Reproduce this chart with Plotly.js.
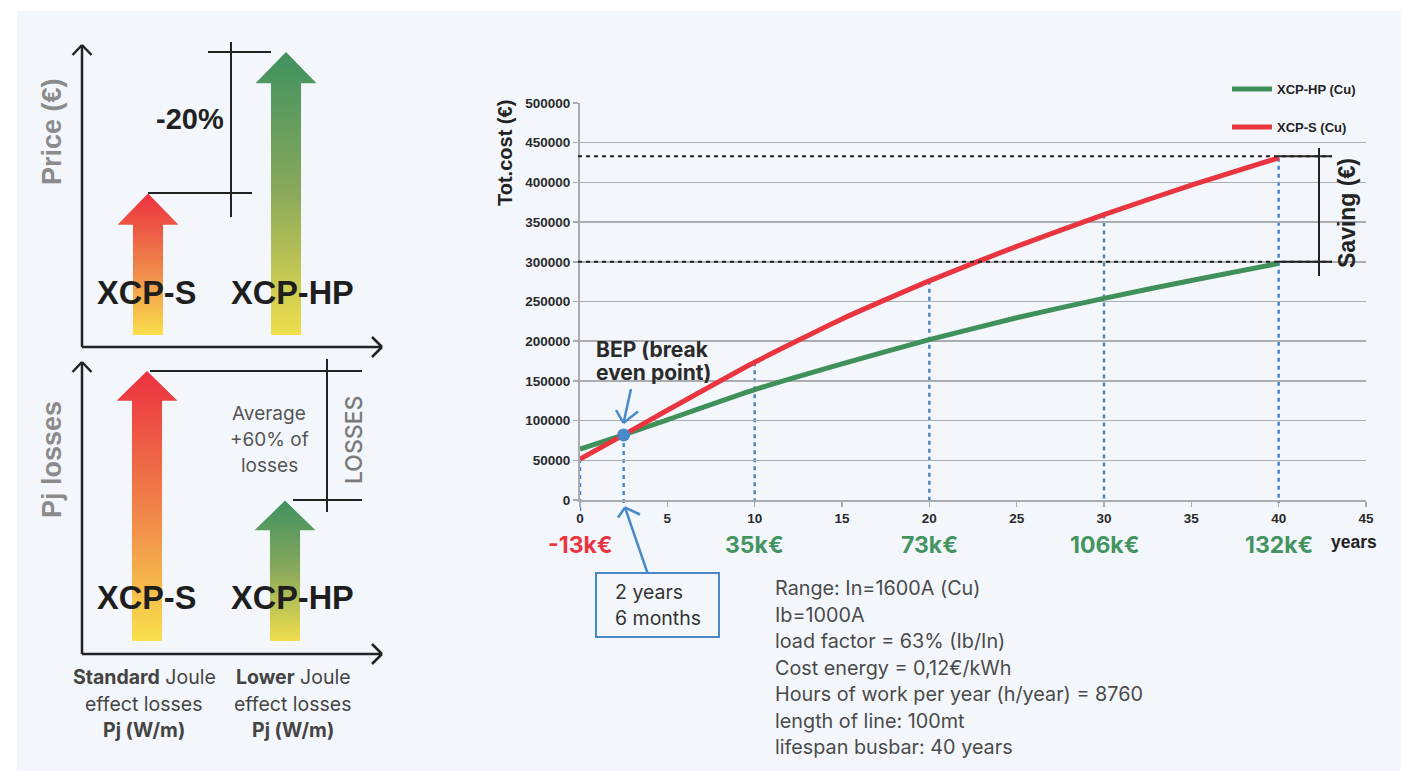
<!DOCTYPE html>
<html>
<head>
<meta charset="utf-8">
<script src="https://cdn.plot.ly/plotly-3.0.1.min.js"></script>
<style>html,body{margin:0;padding:0;background:#fff;}#chart{width:1401px;height:771px;}</style>
</head>
<body>
<div id="chart"></div>
<script>
// ---------- DATA ----------
const years   = [0, 2.5, 5, 10, 15, 20, 25, 30, 35, 40];
const costHP  = [64000, 82000, 101000, 139000, 171500, 202000, 229500, 254000, 276500, 298000];
const costS   = [51500, 82000, 113000, 173500, 228000, 276000, 319500, 359500, 396500, 431000];
const seriesNames = ['XCP-HP (Cu)', 'XCP-S (Cu)'];
const bepX = [2.5];
const bepY = [82000];
const markYears = [0, 2.5, 10, 20, 30, 40];
const savingYears  = [0, 10, 20, 30, 40];
const savingLabels = ['-13k€', '35k€', '73k€', '106k€', '132k€'];
const savingLevels = [300000, 433000];
const productLabels = ['XCP-S', 'XCP-HP'];
const priceLevels = [50, 100];
const lossLevels  = [100, 52];
const paramLines = [
  'Range: In=1600A (Cu)',
  'Ib=1000A',
  'load factor = 63% (Ib/In)',
  'Cost energy = 0,12€/kWh',
  'Hours of work per year (h/year) = 8760',
  'length of line: 100mt',
  'lifespan busbar: 40 years'
];
const bepBoxLines = ['2 years', '6 months'];
const bepTitleLines = ['BEP (break', 'even point)'];
const stdLines = ['<b>Standard</b> Joule', 'effect losses', '<b>Pj (W/m)</b>'];
const lowLines = ['<b>Lower</b> Joule', 'effect losses', '<b>Pj (W/m)</b>'];
const avgLines = ['Average', '+60% of', 'losses'];

// ---------- HELPERS ----------
const W = 1401, H = 771;
const px = x => x / W;
const py = y => 1 - y / H;
const RED = '#e8353f', GREEN = '#3f9159', BLUE = '#4a89c8', DARK = '#222222', BG = '#f3f7fc';
const yMain0 = py(500), yMain1 = py(103);
const yd = v => yMain0 + v / 500000 * (yMain1 - yMain0);
const HELV = 'Liberation Sans, Arial, sans-serif';
const INTER = 'Inter, Noto Sans, sans-serif';

function seg(x0, y0, x1, y1, color, width, dash) {
  return {type: 'line', xref: 'paper', yref: 'paper', x0: px(x0), y0: py(y0), x1: px(x1), y1: py(y1),
          line: {color: color, width: width, dash: dash || 'solid'}, layer: 'above'};
}
function txt(x, y, text, size, color, opts) {
  return Object.assign({xref: 'paper', yref: 'paper', x: px(x), y: py(y), text: text, showarrow: false,
    xanchor: 'center', yanchor: 'middle',
    font: {family: INTER, size: size, color: color}}, opts || {});
}

// ---------- TRACES ----------
const traces = [];
traces.push({x: years, y: costHP, type: 'scatter', mode: 'lines', name: seriesNames[0],
  line: {color: GREEN, width: 5, shape: 'spline', smoothing: 0.5}, hoverinfo: 'x+y', legend: 'legend'});
traces.push({x: years, y: costS, type: 'scatter', mode: 'lines', name: seriesNames[1],
  line: {color: RED, width: 5, shape: 'spline', smoothing: 0.5}, hoverinfo: 'x+y', legend: 'legend2'});
traces.push({x: bepX, y: bepY, type: 'scatter', mode: 'markers', showlegend: false,
  marker: {color: BLUE, size: 13}, hoverinfo: 'x+y'});

// gradient arrows for left panels
const shaftHalf = 0.109, headHalf = 0.221, headLen = 11;
function arrowTrace(i, level, xa, ya, scale) {
  const xs = [i - shaftHalf, i - shaftHalf, i - headHalf, i, i + headHalf, i + shaftHalf, i + shaftHalf, i - shaftHalf];
  const hb = level - headLen;
  const ys = [0, hb, hb, level, hb, hb, 0, 0];
  return {x: xs, y: ys, xaxis: xa, yaxis: ya, type: 'scatter', mode: 'lines', fill: 'toself',
    line: {width: 0, color: 'rgba(0,0,0,0)'}, fillgradient: {type: 'vertical', colorscale: scale},
    showlegend: false, hoverinfo: 'skip'};
}
const scaleS  = [[0, '#f9e04c'], [0.45, '#f08a4a'], [1, '#ec3140']];
const scaleHP = [[0, '#efde4c'], [0.5, '#8aa95b'], [1, '#3f9160']];
priceLevels.forEach((v, i) => traces.push(arrowTrace(i, v, 'x2', 'y2', i === 0 ? scaleS : scaleHP)));
lossLevels.forEach((v, i) => traces.push(arrowTrace(i, v, 'x3', 'y3', i === 0 ? scaleS : scaleHP)));

// ---------- SHAPES ----------
const shapes = [];
shapes.push({type: 'rect', xref: 'paper', yref: 'paper', x0: px(17), x1: 1, y0: 0, y1: py(11),
  fillcolor: BG, line: {width: 0}, layer: 'below'});
// cover top gridline behind legend
shapes.push({type: 'rect', xref: 'paper', yref: 'paper', x0: px(1231), x1: px(1372), y0: py(106), y1: py(100),
  fillcolor: BG, line: {width: 0}, layer: 'above'});

// left panel axes with open arrowheads
function axisArrow(ox, oy, tx, ty, dir) {
  shapes.push(seg(ox, oy, tx, ty, DARK, 2.5));
  if (dir === 'up') { shapes.push(seg(tx, ty, tx - 9.5, ty + 10, DARK, 2.5)); shapes.push(seg(tx, ty, tx + 9.5, ty + 10, DARK, 2.5)); }
  else { shapes.push(seg(tx, ty, tx - 10, ty - 10, DARK, 2.5)); shapes.push(seg(tx, ty, tx - 10, ty + 10, DARK, 2.5)); }
}
axisArrow(82, 347, 82, 45, 'up');
axisArrow(82, 347, 382, 347, 'right');
axisArrow(82, 654, 82, 362, 'up');
axisArrow(82, 654, 382, 654, 'right');
// dimension lines (top)
shapes.push(seg(148, 193, 252, 193, DARK, 2));
shapes.push(seg(208, 52, 271, 52, DARK, 2));
shapes.push(seg(231, 42, 231, 217, DARK, 2));
// dimension lines (bottom)
shapes.push(seg(150, 371, 362, 371, DARK, 2));
shapes.push(seg(293, 500, 362, 500, DARK, 2));
shapes.push(seg(327, 359, 327, 512, DARK, 2));

// main chart: dashed saving levels
savingLevels.forEach(v => {
  shapes.push({type: 'line', xref: 'paper', yref: 'y', x0: px(578), x1: px(1332), y0: v, y1: v,
    line: {color: DARK, width: 2, dash: '4px,4px'}, layer: 'above'});
  shapes.push({type: 'line', xref: 'paper', yref: 'y', x0: px(1278), x1: px(1332), y0: v, y1: v,
    line: {color: DARK, width: 2}, layer: 'above'});
});
shapes.push(seg(1319, 148, 1319, 276, DARK, 2));

// blue dotted verticals
markYears.forEach(yr => {
  const idx = years.indexOf(yr);
  const top = costS[idx];
  const bottom = yr === 0 ? py(512) : py(503);
  shapes.push({type: 'line', xref: 'x', yref: 'paper', x0: yr, x1: yr, y0: yd(top), y1: bottom,
    line: {color: BLUE, width: 2.5, dash: '4px,4px'}, layer: 'below'});
});
// BEP arrows
shapes.push(seg(631, 389, 623.5, 423, BLUE, 2.5));
shapes.push(seg(623.5, 423, 616, 410, BLUE, 2.5));
shapes.push(seg(623.5, 423, 638, 411.5, BLUE, 2.5));
shapes.push(seg(647.5, 573, 625, 507.5, BLUE, 2.5));
shapes.push(seg(625, 507.5, 618, 517.5, BLUE, 2.5));
shapes.push(seg(625, 507.5, 640, 514.5, BLUE, 2.5));
// box
shapes.push({type: 'rect', xref: 'paper', yref: 'paper', x0: px(596), x1: px(719), y0: py(637), y1: py(573),
  line: {color: BLUE, width: 2}, fillcolor: 'rgba(0,0,0,0)', layer: 'above'});

// ---------- ANNOTATIONS ----------
const ann = [];
ann.push(txt(52, 132, 'Price (€)', 27, '#8b8b8b', {textangle: -90, font: {family: HELV, size: 27, color: '#8b8b8b', weight: 700}}));
ann.push(txt(52, 460, 'Pj losses', 27, '#8b8b8b', {textangle: -90, font: {family: HELV, size: 27, color: '#8b8b8b', weight: 700}}));
ann.push(txt(190, 119, '-20%', 29, DARK, {font: {family: HELV, size: 29, color: DARK, weight: 700}}));
[293, 598].forEach(y => {
  ann.push(txt(146, y, productLabels[0], 32.5, '#1e1e1e', {font: {family: HELV, size: 32.5, color: '#1e1e1e', weight: 700}}));
  ann.push(txt(292, y, productLabels[1], 32.5, '#1e1e1e', {font: {family: HELV, size: 32.5, color: '#1e1e1e', weight: 700}}));
});
avgLines.forEach((t, i) => ann.push(txt(269, 413 + i * 26.5, t, 19, '#555555')));
ann.push(txt(354, 440, 'LOSSES', 23, '#7a7a7a', {textangle: -90, font: {family: INTER, size: 23, color: '#7a7a7a', weight: 500}}));
stdLines.forEach((t, i) => ann.push(txt(144, 677 + i * 26.5, t, 19.5, '#444444')));
lowLines.forEach((t, i) => ann.push(txt(293, 677 + i * 26.5, t, 19.5, '#444444')));

// main chart texts
ann.push(txt(505, 153, 'Tot.cost (€)', 20, DARK, {textangle: -90, font: {family: HELV, size: 20, color: DARK, weight: 700}}));
ann.push(txt(1347, 213, 'Saving (€)', 23, DARK, {textangle: -90, font: {family: HELV, size: 23, color: DARK, weight: 700}}));
bepTitleLines.forEach((t, i) => ann.push(txt(594, 350 + i * 22, t, 21, '#2a2a2a', {xanchor: 'left', font: {family: INTER, size: 21, color: '#2a2a2a', weight: 700}})));
bepBoxLines.forEach((t, i) => ann.push(txt(613, 592 + i * 26, t, 19.5, '#333333', {xanchor: 'left'})));
savingYears.forEach((yr, i) => {
  const c = savingLabels[i].startsWith('-') ? RED : '#449461';
  ann.push({xref: 'x', yref: 'paper', x: yr, y: py(545), text: savingLabels[i], showarrow: false,
    xanchor: 'center', yanchor: 'middle', font: {family: INTER, size: 23, color: c, weight: 700}});
});
ann.push(txt(1354, 542, 'years', 17.5, DARK, {font: {family: HELV, size: 17.5, color: DARK, weight: 700}}));
paramLines.forEach((t, i) => ann.push(txt(773, 588 + i * 26.5, t, 19.8, '#4a4a4a', {xanchor: 'left'})));

// ---------- LAYOUT ----------
const tickFont = {family: HELV, size: 13.5, color: '#2a2a2a', weight: 700};
const hidden = {visible: false, fixedrange: true};
const legFont = {family: HELV, size: 13, color: DARK, weight: 700};
const layout = {
  width: W, height: H,
  margin: {l: 0, r: 0, t: 0, b: 0, pad: 0},
  paper_bgcolor: '#ffffff', plot_bgcolor: 'rgba(0,0,0,0)',
  showlegend: true,
  xaxis: {domain: [px(580), px(1366)], range: [0, 45], dtick: 5, tick0: 0,
    showline: true, linecolor: '#a8abb0', linewidth: 2, ticks: 'outside', ticklen: 5, tickwidth: 1.5, tickcolor: '#a8abb0',
    showgrid: false, zeroline: false, tickfont: tickFont, automargin: false, fixedrange: true},
  yaxis: {domain: [py(500), py(103)], range: [0, 500000], dtick: 50000, tick0: 0, tickformat: 'd',
    showline: true, linecolor: '#a8abb0', linewidth: 2, ticks: 'outside', ticklen: 5, tickwidth: 1.5, tickcolor: '#a8abb0',
    showgrid: true, gridcolor: '#a9adb2', gridwidth: 1.5, zeroline: false, tickfont: tickFont, automargin: false, fixedrange: true},
  xaxis2: Object.assign({domain: [px(82), px(382)], range: [-66 / 138, 234 / 138], anchor: 'y2'}, hidden),
  yaxis2: Object.assign({domain: [py(347), py(45)], range: [-12 / 2.83, 290 / 2.83], anchor: 'x2'}, hidden),
  xaxis3: Object.assign({domain: [px(82), px(382)], range: [-65 / 138, 235 / 138], anchor: 'y3'}, hidden),
  yaxis3: Object.assign({domain: [py(654), py(362)], range: [-13 / 2.7, 279 / 2.7], anchor: 'x3'}, hidden),
  legend: {x: px(1227), y: py(89), xanchor: 'left', yanchor: 'middle', bgcolor: 'rgba(0,0,0,0)',
    font: legFont, itemwidth: 40},
  legend2: {x: px(1227), y: py(127), xanchor: 'left', yanchor: 'middle', bgcolor: 'rgba(0,0,0,0)',
    font: legFont, itemwidth: 40},
  shapes: shapes,
  annotations: ann
};
Plotly.newPlot('chart', traces, layout, {displayModeBar: false, staticPlot: true});
</script>
</body>
</html>
